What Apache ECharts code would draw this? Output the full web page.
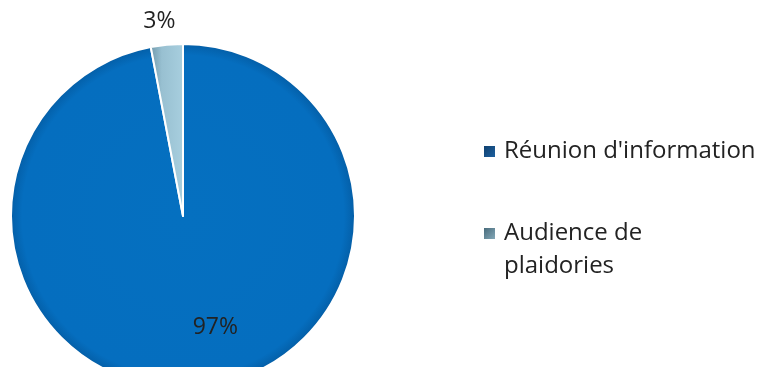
<!DOCTYPE html>
<html>
<head>
<meta charset="utf-8">
<script src="https://cdn.jsdelivr.net/npm/echarts@6/dist/echarts.min.js"></script>
<style>html,body{margin:0;padding:0;background:#fff}#c{width:767px;height:367px}</style>
</head>
<body>
<div id="c"></div>
<script>
const categories = ["Réunion d'information", "Audience de\nplaidories"];
const values = [97, 3];
const labels = ["97%", "3%"];

const chart = echarts.init(document.getElementById('c'), null, {renderer: 'canvas'});
const FONT = '"Open Sans"';
const mainFill = new echarts.graphic.RadialGradient(0.5, 0.5, 0.5, [
  {offset: 0, color: '#0570c0'},
  {offset: 0.93, color: '#056ebf'},
  {offset: 0.985, color: '#0461ab'},
  {offset: 1, color: '#0a5594'}
]);
const smallFill = new echarts.graphic.LinearGradient(0, 0, 1, 0, [
  {offset: 0, color: '#6f98aa'},
  {offset: 0.35, color: '#98c0d1'},
  {offset: 1, color: '#a8cfdf'}
]);
const legendIcons = [
  new echarts.graphic.LinearGradient(0, 0, 1, 1, [{offset: 0, color: '#0d3a66'}, {offset: 1, color: '#1f66a8'}]),
  new echarts.graphic.LinearGradient(0, 0, 1, 1, [{offset: 0, color: '#3d6070'}, {offset: 1, color: '#8fb3c3'}])
];
const fills = [mainFill, smallFill];

const legendBase = {
  orient: 'vertical', left: 482, padding: 0,
  icon: 'rect', itemWidth: 13, itemHeight: 13, itemGap: 0,
  selectedMode: false,
  textStyle: {fontFamily: FONT, fontSize: 24, color: '#222', lineHeight: 33, padding: [0, 0, 0, 3]}
};

const option = {
  animation: false,
  backgroundColor: '#ffffff',
  legend: [
    Object.assign({}, legendBase, {
      top: 135,
      data: [{name: categories[0], itemStyle: {color: legendIcons[0]}}]
    }),
    Object.assign({}, legendBase, {
      top: 184,
      formatter: name => '\n' + name,
      data: [{name: categories[1], itemStyle: {color: legendIcons[1]}}]
    })
  ],
  series: [{
    type: 'pie',
    center: [183, 216],
    radius: 172,
    startAngle: 90,
    clockwise: true,
    avoidLabelOverlap: false,
    itemStyle: {borderColor: '#ffffff', borderWidth: 2},
    label: {fontFamily: FONT, fontSize: 23, color: '#222'},
    data: categories.map((c, i) => ({
      name: c,
      value: values[i],
      itemStyle: {color: fills[i]},
      label: i === 0
        ? {show: true, position: 'inside', formatter: labels[i], offset: [24, 23]}
        : {show: true, position: 'outside', formatter: labels[i], offset: [16, 2]},
      labelLine: {show: false, length: 25, length2: 0}
    }))
  }]
};
chart.setOption(option);
</script>
</body>
</html>
